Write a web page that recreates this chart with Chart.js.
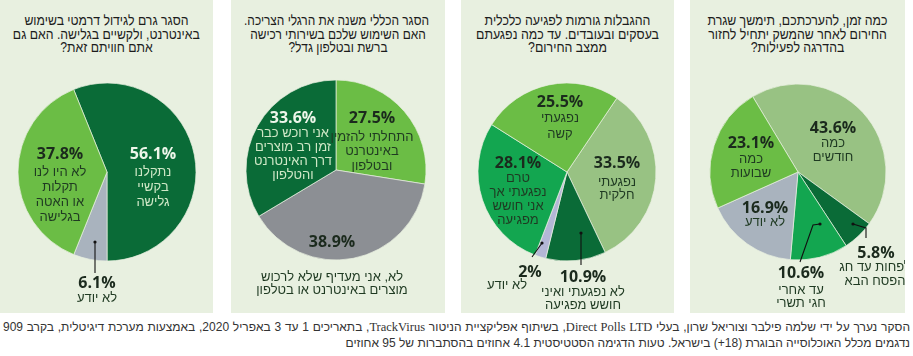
<!DOCTYPE html>
<html lang="he">
<head>
<meta charset="utf-8">
<script src="https://cdn.jsdelivr.net/npm/chart.js@4.4.1/dist/chart.umd.min.js"></script>
<style>
  html,body{margin:0;padding:0;background:#fff;}
  body{width:913px;height:356px;position:relative;overflow:hidden;font-family:"Liberation Sans",Arial,sans-serif;}
  .panel{position:absolute;top:0;height:313px;background:#e8f0e0;}
  .panel canvas{position:absolute;left:0;top:0;}
  .title{position:absolute;left:0;right:0;top:14px;text-align:center;direction:rtl;font-size:14px;line-height:13.5px;color:#1c1c1c;white-space:nowrap;transform-origin:50% 0;}
  .title span{display:inline-block;}
  .note1,.note2{position:absolute;direction:rtl;font-size:12px;line-height:16px;color:#333;white-space:nowrap;}
  .note1{left:3px;right:3px;top:319px;text-align:justify;text-align-last:justify;}
  .note2{right:3px;top:335px;text-align:right;}
  .lat{font-family:"Liberation Serif","Times New Roman",serif;font-size:12.5px;}
</style>
</head>
<body>
<script>
// ---------- DATA ----------
const q1Title = ["הסגר גרם לגידול דרמטי בשימוש", "באינטרנט, ולקשיים בגלישה. האם גם", "אתם חוויתם זאת?"];
const q1Categories = [["נתקלנו","בקשיי","גלישה"], ["לא יודע"], ["לא היו לנו","תקלות","או האטה","בגלישה"]];
const q1Values = [56.1, 6.1, 37.8];

const q2Title = ["הסגר הכללי משנה את הרגלי הצריכה.", "האם השימוש שלכם בשירותי רכישה", "ברשת ובטלפון גדל?"];
const q2Categories = [["התחלתי להזמין","באינטרנט","ובטלפון"], ["לא, אני מעדיף שלא לרכוש","מוצרים באינטרנט או בטלפון"], ["אני רוכש כבר","זמן רב מוצרים","דרך האינטרנט","והטלפון"]];
const q2Values = [27.5, 38.9, 33.6];

const q3Title = ["ההגבלות גורמות לפגיעה כלכלית", "בעסקים ובעובדים. עד כמה נפגעתם", "ממצב החירום?"];
const q3Categories = [["נפגעתי","חלקית"], ["לא נפגעתי ואיני","חושש מפגיעה"], ["לא יודע"], ["טרם","נפגעתי אך","אני חושש","מפגיעה"], ["נפגעתי","קשה"]];
const q3Values = [33.5, 10.9, 2, 28.1, 25.5];

const q4Title = ["כמה זמן, להערכתכם, תימשך שגרת", "החירום לאחר שהמשק יתחיל לחזור", "בהדרגה לפעילות?"];
const q4Categories = [["כמה","חודשים"], ["לפחות עד חג","הפסח הבא"], ["עד אחרי","חגי תשרי"], ["לא יודע"], ["כמה","שבועות"]];
const q4Values = [43.6, 5.8, 10.6, 16.9, 23.1];

const noteLine1 = 'הסקר נערך על ידי שלמה פילבר וצוריאל שרון, בעלי <span class="lat">Direct Polls LTD</span>, בשיתוף אפליקציית הניטור <span class="lat">TrackVirus</span>, בתאריכים 1 עד 3 באפריל 2020, באמצעות מערכת דיגיטלית, בקרב 909';
const noteLine2 = 'נדגמים מכלל האוכלוסייה הבוגרת (18+) בישראל. טעות הדגימה הסטטיסטית 4.1 אחוזים בהסתברות של 95 אחוזים';

// ---------- STYLE / LAYOUT ----------
const C = {dark:'#0a6b37', light:'#6bbd45', gray:'#8c8f94', blueGray:'#a9b3be', sage:'#98c283', bright:'#13a650', lav:'#b4b7d6'};
const DARKTXT = '#1b2a1d', SUBTXT = '#1f3a22', LIGHTPCT = '#eef6ea', LIGHTSUB = '#cfe8c6';

const panels = [
  {x:0, w:213, cx:107, cy:172, r:89, rot:-22, tw:187, title:q1Title, cats:q1Categories, vals:q1Values,
   colors:[C.dark, C.blueGray, C.light],
   lab:[{dx:46,dy:-18,gap:18,sp:15,light:true},
        {dx:-10,dy:111,gap:15,sp:15,lead:[[-12,70],[-12,101]]},
        {dx:-47,dy:-18,gap:18,sp:15}]},
  {x:231, w:214, cx:105, cy:170, r:90, rot:0, tw:185, title:q2Title, cats:q2Categories, vals:q2Values,
   colors:[C.light, C.gray, C.dark],
   lab:[{dx:36,dy:-52,gap:19,sp:14.5},
        {dx:-4,dy:72,gap:35,sp:13.5},
        {dx:-43,dy:-52,gap:15,sp:14.3,light:true}]},
  {x:461, w:213, cx:106, cy:172, r:89, rot:34, tw:183, title:q3Title, cats:q3Categories, vals:q3Values,
   colors:[C.sage, C.dark, C.lav, C.bright, C.light],
   lab:[{dx:50,dy:-9,gap:19,sp:13.5},
        {dx:16,dy:105,gap:15,sp:13.5,lead:[[14,61],[14,93]]},
        {dx:-37,dy:100,gap:13,sp:13,sdx:-23,lead:[[-25,71],[-35,85]]},
        {dx:-49,dy:-9,gap:15,sp:14.3},
        {dx:-7,dy:-70,gap:16,sp:16.5}]},
  {x:690, w:215, cx:108, cy:172, r:88, rot:-31, tw:180, title:q4Title, cats:q4Categories, vals:q4Values,
   colors:[C.sage, C.dark, C.bright, C.blueGray, C.light],
   lab:[{dx:35,dy:-44,gap:15,sp:14},
        {dx:78,dy:81,gap:14,sp:14,sdx:-1,lead:[[55,52],[68,56],[68,66]]},
        {dx:3,dy:101,gap:17,sp:13.5,lead:[[22,52],[15,53],[2,90]]},
        {dx:-33,dy:36,gap:14,sp:14},
        {dx:-47,dy:-29,gap:16,sp:14}]}
];
const H = 313, BW = 1;

const labelPlugin = {
  id:'pieLabels',
  afterDatasetsDraw(chart){
    const cfg = chart.options.plugins.pieLabels;
    const meta = chart.getDatasetMeta(0);
    const ctx = chart.ctx;
    const cats = chart.data.labels;
    const vals = chart.data.datasets[0].data;
    ctx.save();
    meta.data.forEach((arc,i)=>{
      const L = cfg.lab[i];
      const cx = arc.x, cy = arc.y;
      if (L.lead){
        ctx.strokeStyle = '#111'; ctx.lineWidth = 1.1;
        ctx.beginPath();
        L.lead.forEach((p,k)=>{ const px=cx+p[0], py=cy+p[1]; k?ctx.lineTo(px,py):ctx.moveTo(px,py); });
        ctx.stroke();
        ctx.fillStyle='#111'; ctx.beginPath(); ctx.arc(cx+L.lead[0][0], cy+L.lead[0][1], 1.6, 0, Math.PI*2); ctx.fill();
      }
      const x = cx+L.dx, y = cy+L.dy;
      ctx.textAlign='center'; ctx.textBaseline='middle';
      ctx.direction='ltr';
      ctx.font = 'bold 16px "Open Sans","Liberation Sans",sans-serif';
      ctx.fillStyle = L.light ? LIGHTPCT : DARKTXT;
      ctx.fillText(vals[i]+'%', x, y);
      ctx.direction='rtl';
      ctx.font = '13px "Liberation Sans",Arial,sans-serif';
      ctx.fillStyle = L.light ? LIGHTSUB : SUBTXT;
      cats[i].forEach((t,k)=>{ ctx.fillText(t, x+(L.sdx||0), y+L.gap+k*L.sp); });
    });
    ctx.restore();
  }
};

panels.forEach(p=>{
  const div = document.createElement('div');
  div.className='panel'; div.style.left=p.x+'px'; div.style.width=p.w+'px';
  const t = document.createElement('div'); t.className='title';
  t.innerHTML = p.title.map(s=>'<span>'+s+'</span>').join('<br>');
  div.appendChild(t);
  const cv = document.createElement('canvas'); cv.width=p.w; cv.height=H;
  cv.style.width=p.w+'px'; cv.style.height=H+'px';
  div.appendChild(cv);
  document.body.appendChild(div);
  const mw = Math.max(...Array.from(t.querySelectorAll('span')).map(s=>s.getBoundingClientRect().width));
  t.style.transform = 'scaleX(' + (p.tw/mw) + ')';
  const side = 2*p.r + BW;
  const left = p.cx - side/2, top = p.cy - side/2;
  new Chart(cv.getContext('2d'), {
    type:'pie',
    data:{labels:p.cats, datasets:[{data:p.vals, backgroundColor:p.colors, borderColor:'rgba(232,240,224,0.7)', borderWidth:BW}]},
    options:{
      responsive:false, animation:false, rotation:p.rot,
      layout:{padding:{left:left, top:top, right:p.w-left-side, bottom:H-top-side}},
      plugins:{legend:{display:false}, tooltip:{enabled:false}, pieLabels:{lab:p.lab}}
    },
    plugins:[labelPlugin]
  });
});

const n1 = document.createElement('div'); n1.className='note1'; n1.innerHTML = noteLine1; document.body.appendChild(n1);
const n2 = document.createElement('div'); n2.className='note2'; n2.innerHTML = noteLine2; document.body.appendChild(n2);
</script>
</body>
</html>
